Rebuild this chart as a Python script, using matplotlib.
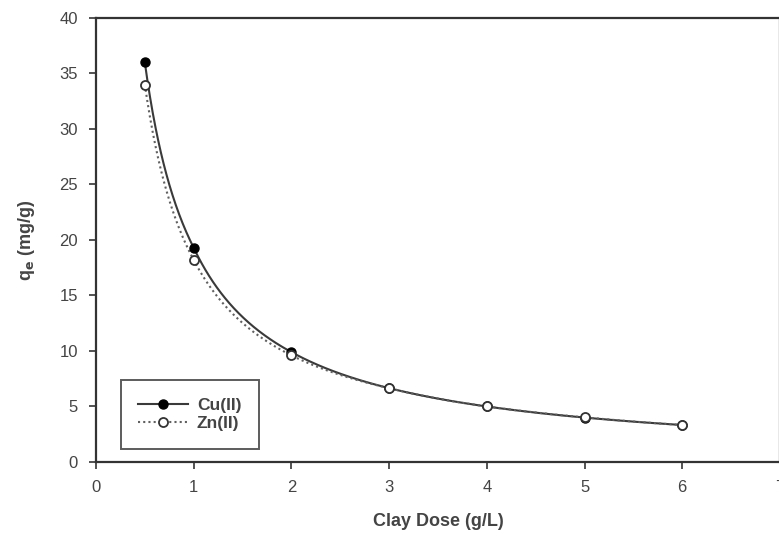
import numpy as np
import matplotlib
matplotlib.use("Agg")
import matplotlib.pyplot as plt

# Adsorption capacity versus clay dose
dose = [0.5, 1, 2, 3, 4, 5, 6]
cu_qe = [36.0, 19.3, 9.9, 6.65, 5.0, 4.0, 3.33]
zn_qe = [34.0, 18.2, 9.6, 6.65, 5.0, 4.02, 3.33]

x_ticks = [0, 1, 2, 3, 4, 5, 6, 7]
y_ticks = [0, 5, 10, 15, 20, 25, 30, 35, 40]

plt.rcParams["font.family"] = ["Liberation Sans", "DejaVu Sans"]

fig = plt.figure(figsize=(7.79, 5.38), dpi=100)
ax = fig.add_axes([0.1232, 0.1413, 0.878, 0.8254])


def smooth(xs, ys, n=300):
    # piecewise power-law path through the points (straight in log-log space)
    lx, ly = np.log(xs), np.log(ys)
    gx = np.linspace(lx[0], lx[-1], n)
    return np.exp(gx), np.exp(np.interp(gx, lx, ly))


line_col = "#3a3a3a"
sx, sy = smooth(np.array(dose), np.array(cu_qe))
ax.plot(sx, sy, color=line_col, lw=1.5, zorder=2)
zx, zy = smooth(np.array(dose), np.array(zn_qe))
ax.plot(zx, zy, color="#606060", lw=1.5, ls=(0, (1, 1.5)), zorder=2)

ax.plot(dose, cu_qe, ls="none", marker="o", ms=6.5, mfc="black", mec="black", zorder=3)
ax.plot(dose, zn_qe, ls="none", marker="o", ms=6.5, mfc="white", mec="#333333",
        mew=1.3, zorder=4)

# legend handles
h1, = ax.plot([], [], color=line_col, lw=1.5, marker="o", ms=6.5, mfc="black", mec="black")
h2, = ax.plot([], [], color="#606060", lw=1.5, ls=(0, (1, 1.5)), marker="o", ms=6.5,
              mfc="white", mec="#333333", mew=1.3)
leg = ax.legend([h1, h2], ["Cu(II)", "Zn(II)"], loc="lower left",
                bbox_to_anchor=(0.036, 0.03), frameon=True, fancybox=False,
                edgecolor="#333333", prop={"weight": "bold", "size": 12.5},
                handlelength=2.9, borderpad=1.0, labelspacing=0.2,
                handletextpad=0.5, borderaxespad=0.0)
leg.get_frame().set_linewidth(1.4)
for t in leg.get_texts():
    t.set_color("#444444")

ax.set_xlim(0, 7)
ax.set_ylim(0, 40)
ax.set_xticks(x_ticks)
ax.set_yticks(y_ticks)
ax.tick_params(direction="out", length=5, width=1.3, colors="#444444",
               labelsize=12, pad=8)
for s in ax.spines.values():
    s.set_linewidth(1.6)
    s.set_color("#333333")

ax.set_xlabel("Clay Dose (g/L)", fontsize=13, fontweight="bold", color="#444444",
              labelpad=13)
ax.set_ylabel(r"q$_\mathbf{e}$ (mg/g)", fontsize=13, fontweight="bold",
              color="#444444", labelpad=16)

fig.savefig("out.png", dpi=100)
